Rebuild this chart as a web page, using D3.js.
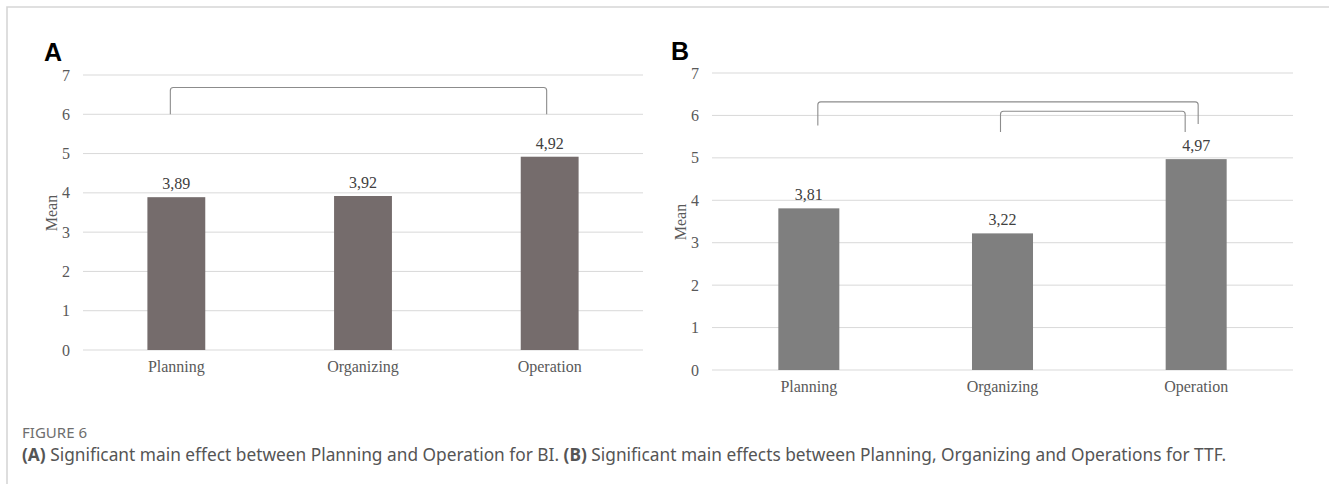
<!DOCTYPE html>
<html>
<head>
<meta charset="utf-8">
<script src="https://cdn.jsdelivr.net/npm/d3@7"></script>
<style>
  html, body { margin: 0; padding: 0; background: #fff; }
  svg { display: block; }
</style>
</head>
<body>
<svg id="chart" width="1329" height="484"></svg>
<script>
// ---------- data ----------
const categories = ["Planning", "Organizing", "Operation"];
const meansA = [3.89, 3.92, 4.92];
const meansB = [3.81, 3.22, 4.97];
const yTicks = [0, 1, 2, 3, 4, 5, 6, 7];
const bracketsA = [{ from: "Planning", to: "Operation", top: 6.68, leftEnd: 6.0, rightEnd: 6.0 }];
const bracketsB = [
  { from: "Planning", to: "Operation", top: 6.32, leftEnd: 5.76, rightEnd: 5.8 },
  { from: "Organizing", to: "Operation", top: 6.1, leftEnd: 5.61, rightEnd: 5.61 }
];
const fmt = v => v.toFixed(2).replace(".", ",");

// ---------- layout ----------
const svg = d3.select("#chart");
const serif = "'Liberation Serif', 'Times New Roman', serif";
const fs = 16;

// frame
svg.append("path")
  .attr("d", "M7,484 L7,7 L1329,7")
  .attr("fill", "none").attr("stroke", "#d6d6d6").attr("stroke-width", 1.6);

const panels = [
  { letter: "A", lx: 44, ly: 61, values: meansA, color: "#756c6c",
    x0: 83, x1: 643, yTop: 75, yBot: 350, pad: 0.69,
    meanX: 51, meanY: 213, brackets: bracketsA, offs: [[-6, -3]] },
  { letter: "B", lx: 671, ly: 60, values: meansB, color: "#7f7f7f",
    x0: 712, x1: 1293, yTop: 73, yBot: 370, pad: 0.685,
    meanX: 680, meanY: 222, brackets: bracketsB, offs: [[9, 2], [-2, -11]] }
];

panels.forEach(p => {
  const g = svg.append("g");
  const x = d3.scaleBand().domain(categories).range([p.x0, p.x1]).paddingInner(p.pad).paddingOuter(p.pad / 2);
  const y = d3.scaleLinear().domain([0, 7]).range([p.yBot, p.yTop]);

  // gridlines
  g.selectAll("line.grid").data(yTicks).join("line")
    .attr("x1", p.x0).attr("x2", p.x1)
    .attr("y1", d => y(d)).attr("y2", d => y(d))
    .attr("stroke", "#d9d9d9").attr("stroke-width", 1);

  // y axis labels
  const yAxis = d3.axisLeft(y).tickValues(yTicks).tickSize(0).tickPadding(13).tickFormat(d3.format("d"));
  const ya = g.append("g").attr("transform", `translate(${p.x0},0)`).call(yAxis);
  ya.select(".domain").remove();
  ya.selectAll("text").attr("font-family", serif).attr("font-size", fs).attr("fill", "#595959");

  // x axis labels
  const xAxis = d3.axisBottom(x).tickSize(0).tickPadding(11);
  const xa = g.append("g").attr("transform", `translate(0,${p.yBot})`).call(xAxis);
  xa.select(".domain").remove();
  xa.selectAll("text").attr("font-family", serif).attr("font-size", fs).attr("fill", "#595959");

  // bars
  g.selectAll("rect.bar").data(p.values).join("rect")
    .attr("x", (d, i) => x(categories[i]))
    .attr("width", x.bandwidth())
    .attr("y", d => y(d))
    .attr("height", d => y(0) - y(d))
    .attr("fill", p.color);

  // value labels
  g.selectAll("text.val").data(p.values).join("text")
    .attr("x", (d, i) => x(categories[i]) + x.bandwidth() / 2)
    .attr("y", d => y(d) - 8)
    .attr("text-anchor", "middle")
    .attr("font-family", serif).attr("font-size", fs).attr("fill", "#404040")
    .text(fmt);

  // Mean label
  g.append("text")
    .attr("transform", `translate(${p.meanX},${p.meanY}) rotate(-90)`)
    .attr("text-anchor", "middle").attr("dy", "0.35em")
    .attr("font-family", serif).attr("font-size", fs).attr("fill", "#595959")
    .text("Mean");

  // panel letter
  svg.append("text")
    .attr("x", p.lx).attr("y", p.ly)
    .attr("font-family", "'Liberation Sans', Arial, sans-serif").attr("font-weight", "bold")
    .attr("font-size", 25).attr("fill", "#000")
    .text(p.letter);

  // significance brackets
  p.brackets.forEach((b, i) => {
    const xl = x(b.from) + x.bandwidth() / 2 + p.offs[i][0];
    const xr = x(b.to) + x.bandwidth() / 2 + p.offs[i][1];
    const yt = y(b.top), yl = y(b.leftEnd), yr = y(b.rightEnd);
    const r = 3;
    const path = `M${xl},${yl} L${xl},${yt + r} Q${xl},${yt} ${xl + r},${yt} L${xr - r},${yt} Q${xr},${yt} ${xr},${yt + r} L${xr},${yr}`;
    g.append("path").attr("d", path).attr("fill", "none").attr("stroke", "#8c8c8c").attr("stroke-width", 1.1);
  });
});

// caption
const sans = "'Noto Sans', 'Open Sans', sans-serif";
const fig = svg.append("text").attr("x", 22).attr("y", 438)
  .attr("font-family", sans).attr("font-size", 14).attr("fill", "#6e6e6e")
  .text("FIGURE 6");
const fw = fig.node().getComputedTextLength();
fig.attr("font-size", 14 * 65 / fw);

const cap = svg.append("text").attr("x", 22).attr("y", 461)
  .attr("font-family", sans).attr("font-size", 16).attr("fill", "#555555");
cap.append("tspan").attr("font-weight", "bold").text("(A)");
cap.append("tspan").text(" Significant main effect between Planning and Operation for BI. ");
cap.append("tspan").attr("font-weight", "bold").text("(B)");
cap.append("tspan").text(" Significant main effects between Planning, Organizing and Operations for TTF.");
// fit caption width to reference line length
const w = cap.node().getComputedTextLength();
cap.attr("font-size", 16 * 1205 / w);
</script>
</body>
</html>
